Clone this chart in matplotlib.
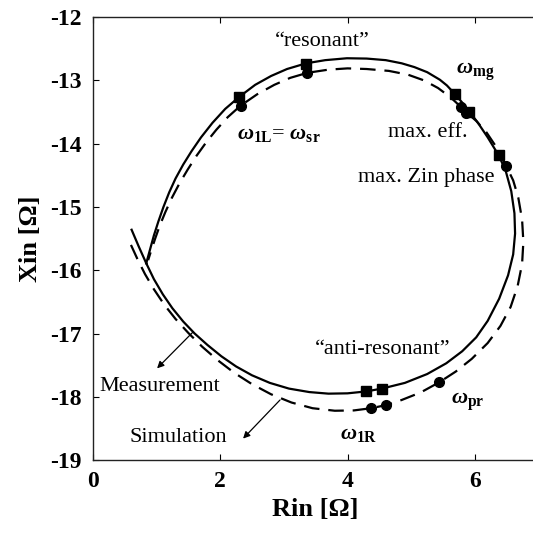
import matplotlib
matplotlib.use('Agg')
import matplotlib.pyplot as plt

plt.rcParams['font.family'] = ['Liberation Serif', 'DejaVu Serif']
plt.rcParams['mathtext.fontset'] = 'custom'
plt.rcParams['mathtext.it'] = 'Liberation Serif:italic:bold'
plt.rcParams['mathtext.rm'] = 'Liberation Serif:bold'
plt.rcParams['mathtext.bf'] = 'Liberation Serif:bold'

# Measured input impedance locus (Rin, Xin) in ohms
meas_rin = [0.61, 0.72, 0.84, 0.96, 1.10, 1.25, 1.42, 1.60, 1.80, 2.02, 2.25,
            2.50, 2.78, 3.08, 3.40, 3.70, 4.00, 4.29, 4.54, 4.90, 5.25, 5.55,
            5.80, 6.02, 6.20, 6.38, 6.52, 6.60, 6.63, 6.62, 6.57, 6.48, 6.37,
            6.20, 6.04, 5.91, 5.80, 5.68, 5.56, 5.45, 5.25, 5.05, 4.85, 4.60,
            4.30, 3.99, 3.65, 3.35, 3.05, 2.80, 2.55, 2.30, 2.08, 1.88, 1.70,
            1.55, 1.42, 1.30, 1.20, 1.11, 1.03, 0.96, 0.90, 0.84]
meas_xin = [-15.36, -15.62, -15.89, -16.14, -16.38, -16.60, -16.81, -17.00,
            -17.18, -17.36, -17.52, -17.66, -17.78, -17.87, -17.925, -17.95,
            -17.945, -17.915, -17.87, -17.78, -17.64, -17.47, -17.28, -17.06,
            -16.80, -16.45, -16.08, -15.75, -15.42, -15.10, -14.75, -14.42,
            -14.18, -13.90, -13.66, -13.49, -13.35, -13.21, -13.08, -12.99,
            -12.87, -12.79, -12.73, -12.68, -12.655, -12.65, -12.68, -12.73,
            -12.82, -12.93, -13.07, -13.26, -13.45, -13.67, -13.90, -14.12,
            -14.33, -14.55, -14.77, -15.00, -15.23, -15.45, -15.67, -15.89]

# Simulated input impedance locus
sim_rin = [0.60, 0.70, 0.82, 0.96, 1.12, 1.30, 1.50, 1.72, 1.96, 2.22, 2.50,
           2.80, 3.12, 3.45, 3.80, 4.10, 4.37, 4.61, 4.85, 5.15, 5.44, 5.70,
           5.95, 6.20, 6.40, 6.56, 6.67, 6.74, 6.76, 6.74, 6.68, 6.60, 6.49,
           6.34, 6.18, 6.02, 5.86, 5.78, 5.62, 5.42, 5.20, 4.95, 4.65, 4.30,
           4.00, 3.70, 3.37, 3.10, 2.85, 2.58, 2.32, 2.12, 1.94, 1.78, 1.63,
           1.49, 1.36, 1.24, 1.14, 1.05, 0.98, 0.92, 0.87]
sim_xin = [-15.60, -15.82, -16.06, -16.30, -16.54, -16.77, -16.99, -17.21,
           -17.42, -17.62, -17.80, -17.96, -18.09, -18.18, -18.22, -18.215,
           -18.18, -18.13, -18.05, -17.93, -17.77, -17.60, -17.40, -17.15,
           -16.88, -16.58, -16.25, -15.90, -15.55, -15.20, -14.85, -14.58,
           -14.35, -14.06, -13.82, -13.64, -13.50, -13.42, -13.27, -13.12,
           -13.00, -12.91, -12.85, -12.82, -12.81, -12.83, -12.88, -12.96,
           -13.07, -13.22, -13.40, -13.58, -13.78, -13.98, -14.19, -14.41,
           -14.63, -14.86, -15.08, -15.30, -15.50, -15.68, -15.84]

# Characteristic frequencies: squares on measurement, circles on simulation
sq_rin = [2.30, 3.35, 5.68, 5.91, 6.37, 4.29, 4.54]
sq_xin = [-13.26, -12.74, -13.22, -13.50, -14.18, -17.91, -17.87]
ci_rin = [2.32, 3.37, 5.78, 5.86, 6.49, 4.37, 4.61, 5.44]
ci_xin = [-13.41, -12.88, -13.42, -13.52, -14.35, -18.18, -18.13, -17.77]

fig = plt.figure(figsize=(5.33, 5.35), dpi=100)
ax = fig.add_axes([0.174, 0.140, 0.8366, 0.828])

ax.plot(meas_rin, meas_xin, color='black', lw=1.6)
ax.plot(sim_rin, sim_xin, color='black', lw=1.6, dashes=(7, 4))
ax.plot(sq_rin, sq_xin, 's', color='black', ms=7.5, ls='none')
ax.plot(ci_rin, ci_xin, 'o', color='black', ms=7, ls='none')

txt = dict(fontsize=16, color='black')
ax.text(3.60, -12.39, '\u201cresonant\u201d', ha='center', va='center', **txt)
ax.text(4.64, -13.83, 'max. eff.', ha='left', va='center', **txt)
ax.text(4.16, -14.53, 'max. Zin phase', ha='left', va='center', **txt)
ax.text(3.49, -17.26, '\u201canti-resonant\u201d', ha='left', va='center', **txt)
ax.text(0.11, -17.83, 'Measurement', ha='left', va='center', **txt)
ax.text(0.58, -18.65, 'Simulation', ha='left', va='center', **txt)

om = dict(fontsize=16, color='black')
ax.text(5.71, -12.87, r'$\omega_{\mathrm{mg}}$', ha='left', va='center', **om)
ax.text(2.26, -13.85, r'$\omega_{\mathrm{1L}}$= $\omega_{\mathrm{sr}}$',
        ha='left', va='center', **om)
ax.text(3.88, -18.60, r'$\omega_{\mathrm{1R}}$', ha='left', va='center', **om)
ax.text(5.63, -18.08, r'$\omega_{\mathrm{pr}}$', ha='left', va='center', **om)

arrow = dict(arrowstyle='-|>', color='black', lw=0.9, mutation_scale=10,
             shrinkA=0, shrinkB=0)
ax.annotate('', xy=(1.01, -17.55), xytext=(1.58, -16.97), arrowprops=arrow)
ax.annotate('', xy=(2.36, -18.66), xytext=(2.94, -18.05), arrowprops=arrow)

ax.set_xlim(0, 7)
ax.set_ylim(-19, -12)
ax.set_xticks([0, 2, 4, 6])
ax.set_yticks(range(-19, -11))
ax.set_yticklabels([str(v) for v in range(-19, -11)])
ax.tick_params(direction='in', top=True, right=True, length=4, width=0.8,
               labelsize=17, pad=8)
for lab in ax.get_xticklabels() + ax.get_yticklabels():
    lab.set_fontweight('bold')
for sp in ax.spines.values():
    sp.set_linewidth(1.0)
    sp.set_color('#222222')

ax.set_xlabel('Rin [\u03a9]', fontsize=19, fontweight='bold', labelpad=4)
ax.set_ylabel('Xin [\u03a9]', fontsize=19, fontweight='bold', labelpad=6)

fig.savefig('out.png', dpi=100)
